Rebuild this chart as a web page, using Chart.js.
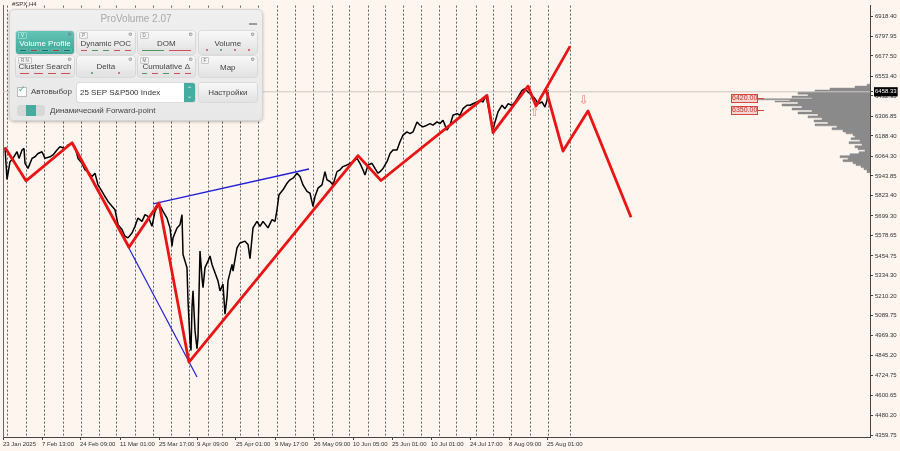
<!DOCTYPE html>
<html><head><meta charset="utf-8">
<script src="https://cdn.jsdelivr.net/npm/chart.js@4.4.1/dist/chart.umd.min.js"></script>
<style>
html,body{margin:0;padding:0;background:#FDF5EE;}
#wrap{position:relative;width:900px;height:451px;overflow:hidden;background:#FDF5EE;}
canvas{position:absolute;left:0;top:0;}
#sym{position:absolute;left:12px;top:1px;font:6px "Liberation Sans",Arial,sans-serif;color:#333;}
#panel{position:absolute;left:9px;top:9px;width:252px;height:110px;background:linear-gradient(#efefef,#e8e8e8);border:1px solid #d4d4d4;border-radius:5px;box-shadow:0 1px 3px rgba(0,0,0,.25);font-family:"Liberation Sans",Arial,sans-serif;color:#444;}
#panel .ttl{position:absolute;left:0;right:0;top:3px;text-align:center;font-size:10px;color:#a9a9a9;}
#panel .mn{position:absolute;left:239px;top:13px;width:8px;height:1.5px;background:#9c9c9c;}
.btn{position:absolute;background:linear-gradient(#f8f8f8,#e2e2e2);border-radius:3px;box-shadow:0 0 0 .6px #cacaca;font-size:8px;color:#444;}
.btn.act{background:linear-gradient(#63c4b5,#3ea698);color:#fff;}
.btn .l{position:absolute;left:0;right:0;top:7.5px;text-align:center;white-space:nowrap;}
.btn .k{position:absolute;left:2px;top:1px;font-size:4.5px;font-weight:normal;color:#777;border:0.5px solid #c8c8c8;padding:0 2px;line-height:5px;border-radius:1px;}
.btn.act .k{color:#e8fffb;border-color:#8fd6cb;}
.btn .g{position:absolute;right:2px;top:0px;font-size:5px;font-weight:normal;color:#777;font-family:"DejaVu Sans";}
.m{position:absolute;left:2px;right:2px;bottom:2px;height:4px;display:flex;gap:1px;}
.m span{flex:1;background:#e4e4e4;position:relative;}
.btn.act .m span{background:#52b5a7;}
.m span::after{content:'';position:absolute;left:2px;right:2px;top:1.5px;height:1px;background:var(--c);}
.m span.d::after{left:calc(50% - 1px);right:auto;width:2px;height:2px;top:1px;border-radius:1px;}
#chk{position:absolute;left:7px;top:77px;width:8px;height:8px;background:#fff;border:0.6px solid #bbb;}
#chk b{position:absolute;left:0;top:-4px;font:9px "DejaVu Sans";color:#3ea698;}
#auto{position:absolute;left:21px;top:77px;font-size:8px;color:#444;}
#dd{position:absolute;left:67px;top:72.5px;width:118px;height:19px;background:#fff;border-radius:2px;box-shadow:0 0 0 .6px #cfcfcf;font-size:8px;color:#333;}
#dd .t{position:absolute;left:3px;top:5px;white-space:nowrap;}
#dd .s{position:absolute;right:0;top:0;width:11px;height:19px;background:#45ad9f;border-radius:0 2px 2px 0;color:#fff;font:6px "DejaVu Sans";text-align:center;line-height:7px;padding-top:2px;box-sizing:border-box;}
#tog{position:absolute;left:7px;top:95px;width:28px;height:11px;background:#d8d8d8;border-radius:3px;overflow:hidden;}
#tog i{position:absolute;left:9px;top:0;width:10px;height:11px;background:#45ad9f;}
#fw{position:absolute;left:40px;top:96px;font-size:8px;color:#444;white-space:nowrap;}
</style></head><body>
<div id="wrap">
<canvas id="c" width="900" height="451"></canvas>
<div id="sym">#SPX,H4</div>
<div id="panel">
  <div class="ttl">ProVolume 2.07</div>
  <div class="mn"></div>
  <div class="btn act" style="left:6px;top:21px;width:58px;height:23px"><b class="k">V</b><b class="g">⚙</b><span class="l">Volume Profile</span><div class="m"><span style="--c:#1f6e62"></span><span style="--c:#c0392b"></span><span style="--c:#1f6e62"></span><span style="--c:#c0392b"></span><span style="--c:#1f6e62"></span></div></div>
  <div class="btn" style="left:67px;top:21px;width:57.5px;height:23px"><b class="k">P</b><b class="g">⚙</b><span class="l">Dynamic POC</span><div class="m"><span style="--c:#d05050"></span><span style="--c:#4a9a5a"></span><span style="--c:#4a9a5a"></span><span style="--c:#d05050"></span><span style="--c:#d05050"></span></div></div>
  <div class="btn" style="left:127.5px;top:21px;width:57.5px;height:23px"><b class="k">D</b><b class="g">⚙</b><span class="l">DOM</span><div class="m"><span style="--c:#4a9a5a"></span><span style="--c:#d05050"></span></div></div>
  <div class="btn" style="left:188.5px;top:21px;width:58.5px;height:23px"><b class="g">⚙</b><span class="l">Volume</span><div class="m"><span class="d" style="--c:#d05050"></span><span class="d" style="--c:#4a9a5a"></span><span class="d" style="--c:#d05050"></span><span class="d" style="--c:#d05050"></span></div></div>
  <div class="btn" style="left:6px;top:46px;width:58px;height:21px"><b class="k">R N</b><b class="g">⚙</b><span class="l" style="top:6px">Cluster Search</span><div class="m"><span style="--c:#d05050"></span><span style="--c:#d05050"></span><span style="--c:#d05050"></span><span style="--c:#d05050"></span></div></div>
  <div class="btn" style="left:67px;top:46px;width:57.5px;height:21px"><b class="g">⚙</b><span class="l" style="top:6px">Delta</span><div class="m"><span class="d" style="--c:#4a9a5a"></span><span class="d" style="--c:#d05050"></span></div></div>
  <div class="btn" style="left:127.5px;top:46px;width:57.5px;height:21px"><b class="k">M</b><b class="g">⚙</b><span class="l" style="top:6px">Cumulative Δ</span><div class="m"><span style="--c:#4a9a5a"></span><span style="--c:#d05050"></span><span style="--c:#4a9a5a"></span><span style="--c:#d05050"></span><span style="--c:#d05050"></span></div></div>
  <div class="btn" style="left:188.5px;top:46px;width:58.5px;height:21px"><b class="k">F</b><b class="g">⚙</b><span class="l" style="top:6.5px">Map</span></div>
  <div id="chk"><b>✓</b></div>
  <div id="auto">Автовыбор</div>
  <div id="dd"><span class="t">25 SEP S&amp;P500 Index</span><div class="s">⌃<br>⌄</div></div>
  <div class="btn" style="left:188.5px;top:73px;width:58.5px;height:19px"><span class="l" style="top:5px">Настройки</span></div>
  <div id="tog"><i></i></div>
  <div id="fw">Динамический Forward-point</div>
</div>
</div>
<script>
// ---------- data (bar index = H4 bar number from 23 Jan 2025) ----------
const priceBars = [2,4,7,10,14,16,19,21,22,25,29,32,35,39,42,47,50,54,57,62,65,69,72,75,79,82,85,89,92,95,99,102,105,109,112,115,119,122,125,129,132,135,139,142,145,149,152,155,158,160,164,167,169,170,174,177,179,180,184,185,187,188,189,190,192,194,195,197,199,200,202,205,207,209,212,215,217,220,222,224,225,229,230,234,237,242,245,247,250,254,257,260,265,269,272,274,276,280,284,287,290,294,297,300,304,307,310,312,315,319,322,324,327,330,334,337,340,344,347,350,354,357,360,362,365,369,372,375,377,380,384,387,390,394,397,400,404,407,410,414,417,420,424,427,430,434,437,440,444,447,450,454,457,460,464,467,470,474,477,480,483,485,487,490,492,495,499,502,505,509,512,515,519,522,525,529,532,535,539,542,544,545];
const priceClose = [6118,5922,6031,6051,6092,6051,6102,6112,6021,5990,6051,6061,6081,6092,6051,6061,6072,6102,6122,6112,6133,6142,6122,6051,6021,5981,5970,5940,5960,5889,5849,5818,5788,5758,5737,5646,5616,5575,5565,5595,5636,5686,5666,5707,5697,5636,5727,5764,5752,5727,5686,5626,5514,5565,5626,5646,5707,5464,5383,5180,4937,4876,5140,5241,4998,4887,4957,5484,5322,5261,5383,5423,5454,5403,5352,5302,5241,5282,5099,5200,5302,5403,5362,5504,5534,5545,5525,5438,5626,5666,5636,5666,5626,5677,5666,5737,5829,5859,5899,5920,5930,5960,5940,5889,5849,5838,5758,5818,5869,5889,5970,5920,5910,5889,5970,5981,6001,6011,6021,6031,6051,6021,5981,5950,6011,6021,5990,5960,5970,5990,6031,6081,6102,6102,6153,6193,6213,6203,6213,6274,6254,6244,6254,6264,6254,6274,6264,6284,6224,6254,6315,6325,6315,6355,6376,6376,6385,6396,6406,6396,6436,6376,6315,6224,6274,6335,6376,6355,6385,6376,6396,6426,6467,6477,6457,6436,6416,6385,6396,6365,6406,6457];

const zigzagBars   = [2,23,69,126,156,186,355,378,484,490,525,533,567];
const zigzagValues = [6118,5914,6147,5508,5779,4805,6068,5916,6436,6209,6493,6371,6736];
const forecastBars   = [543,560,585,628];
const forecastValues = [6472,6096,6341,5691];
const lowerTrendBars = [124,194];
const lowerTrendValues = [5525,4714];
const upperTrendBars = [150,306];
const upperTrendValues = [5773,5986];

const lastPrice = 6458.33;
const levelValues = [6420.00, 6350.00];
const arrowUp = {bar:532, value:6329};
const arrowDown = {bar:581, value:6402};

const profilePrices  = [6510,6505,6493,6481,6469,6457,6444,6432,6422,6416,6409,6402,6396,6384,6371,6359,6347,6335,6323,6311,6299,6286,6274,6262,6250,6238,6226,6213,6201,6189,6177,6165,6153,6141,6128,6116,6104,6092,6080,6068,6055,6043,6031,6019,6007,5995,5982,5964];
const profileVolumes = [0,3,15,40,55,72,62,78,58,122,80,95,72,88,68,78,58,72,52,62,48,56,42,55,33,38,27,24,17,15,19,10,21,8,15,12,5,11,20,30,22,27,17,14,9,6,3,0];

const weekStartBars = [4,23,41,60,78,96,114,132,150,168,186,205,219,237,255,274,292,310,329,346,365,382,400,418,436,454,473,490,509,527,545,567];
const timeTickBars = [0,39,77,117,156,194,233,272,311,350,389,428,467,506,544];
const timeTickLabels = ["23 Jan 2025","7 Feb 13:00","24 Feb 09:00","11 Mar 01:00","25 Mar 17:00","9 Apr 09:00","25 Apr 01:00","9 May 17:00","26 May 09:00","10 Jun 05:00","25 Jun 01:00","10 Jul 01:00","24 Jul 17:00","8 Aug 09:00","25 Aug 01:00"];
const priceTicks = [6918.40,6797.95,6677.50,6553.40,6432.95,6306.85,6188.40,6064.30,5943.85,5823.40,5699.30,5578.65,5454.75,5334.30,5210.20,5089.75,4969.30,4845.20,4724.75,4600.65,4480.20,4359.75];

// ---------- build ----------
const pts = (xs, ys) => xs.map((b, i) => ({x: b, y: ys[i]}));
const FONT = '"Liberation Sans", Arial, sans-serif';

const annot = {
  id: 'annot',
  afterDatasetsDraw(chart) {
    const {ctx} = chart;
    const xs = chart.scales.x, ys = chart.scales.y;
    ctx.save();
    const bx0 = Math.round(xs.getPixelForValue(728));
    const bx1 = Math.round(xs.getPixelForValue(755));
    const bx2 = Math.round(xs.getPixelForValue(761));
    levelValues.forEach(v => {
      const py = Math.round(ys.getPixelForValue(v));
      ctx.fillStyle = '#f6d6d2';
      ctx.fillRect(bx0, py - 4, bx1 - bx0, 9);
      ctx.strokeStyle = '#d6463e';
      ctx.lineWidth = 1;
      ctx.strokeRect(bx0 + 0.5, py - 3.5, bx1 - bx0 - 1, 8);
      ctx.beginPath(); ctx.moveTo(bx1, py + 0.5); ctx.lineTo(bx2, py + 0.5); ctx.stroke();
      ctx.fillStyle = '#c8322b';
      ctx.font = '7px ' + FONT;
      ctx.textAlign = 'left'; ctx.textBaseline = 'middle';
      ctx.fillText(v.toFixed(2), bx0 + 1, py + 0.5);
    });
    ctx.font = '12px "DejaVu Sans"';
    ctx.fillStyle = '#f0857c';
    ctx.textAlign = 'center'; ctx.textBaseline = 'middle';
    ctx.fillText('⇧', xs.getPixelForValue(arrowUp.bar), ys.getPixelForValue(arrowUp.value));
    ctx.fillText('⇩', xs.getPixelForValue(arrowDown.bar), ys.getPixelForValue(arrowDown.value));
    ctx.restore();
  }
};

const profileData = profilePrices.map((p, i) => ({x: profileVolumes[i], y: p}));

new Chart(document.getElementById('c'), {
  type: 'line',
  data: {
    datasets: [
      {data: pts(zigzagBars, zigzagValues), borderColor: '#ea1414', borderWidth: 2.8, borderJoinStyle: 'round'},
      {data: pts(forecastBars, forecastValues), borderColor: '#ea1414', borderWidth: 2.8, borderJoinStyle: 'round'},
      {data: pts(lowerTrendBars, lowerTrendValues), borderColor: '#2020d8', borderWidth: 1.2},
      {data: pts(upperTrendBars, upperTrendValues), borderColor: '#2020d8', borderWidth: 1.5},
      {data: pts(priceBars, priceClose), borderColor: '#000', borderWidth: 1.5, borderJoinStyle: 'bevel'},
      {data: [{x: 0, y: lastPrice}, {x: 867, y: lastPrice}], borderColor: '#cdc6c2', borderWidth: 1},
      {data: profileData, xAxisID: 'xv', stepped: 'after', fill: 'shape', backgroundColor: '#8a8a8a', borderColor: '#8a8a8a', borderWidth: 0.5}
    ]
  },
  options: {
    responsive: false, animation: false, devicePixelRatio: 1,
    layout: {padding: {left: 3, top: 3, right: 0, bottom: 0}},
    plugins: {legend: {display: false}, tooltip: {enabled: false}},
    elements: {point: {radius: 0}, line: {tension: 0, fill: false}},
    scales: {
      x: {
        type: 'linear', position: 'bottom', min: 0, max: 867,
        afterBuildTicks: s => { s.ticks = weekStartBars.map(v => ({value: v})); },
        ticks: {display: false},
        grid: {color: 'rgba(70,70,70,0.85)', lineWidth: 1, drawTicks: false},
        border: {display: false, dash: [2, 2]},
        afterFit: s => { s.height = 0; }
      },
      xl: {
        type: 'linear', position: 'bottom', min: 0, max: 867,
        afterBuildTicks: s => { s.ticks = timeTickBars.map(v => ({value: v})); },
        ticks: {autoSkip: false, maxRotation: 0, minRotation: 0, align: 'start', padding: 1, color: '#333',
          font: {family: FONT, size: 6}, callback: (v, i) => timeTickLabels[i]},
        grid: {drawOnChartArea: false, drawTicks: true, tickLength: 3, color: '#444'},
        border: {display: true, color: '#444', width: 1},
        afterFit: s => { s.height = 14; }
      },
      xv: {type: 'linear', display: false, reverse: true, min: 0, max: 867},
      y: {
        type: 'linear', position: 'right', min: 4347.6, max: 6985.3,
        afterBuildTicks: s => { s.ticks = priceTicks.concat([lastPrice]).map(v => ({value: v})); },
        ticks: {autoSkip: false, padding: 2, font: {family: FONT, size: 6},
          color: c => (c.tick && c.tick.value === lastPrice) ? '#fff' : '#333',
          showLabelBackdrop: c => !!(c.tick && c.tick.value === lastPrice),
          backdropColor: '#000', backdropPadding: {x: 1, y: 1},
          callback: v => Number(v).toFixed(2)},
        grid: {drawOnChartArea: false, tickLength: 3, color: '#444'},
        border: {display: true, color: '#444'},
        afterFit: s => { s.width = 30; }
      },
      yl: {
        type: 'linear', position: 'left', min: 0, max: 1,
        ticks: {display: false}, grid: {display: false, drawTicks: false},
        border: {display: true, color: '#666'},
        afterFit: s => { s.width = 0; }
      }
    }
  },
  plugins: [annot]
});
</script>
</body></html>
